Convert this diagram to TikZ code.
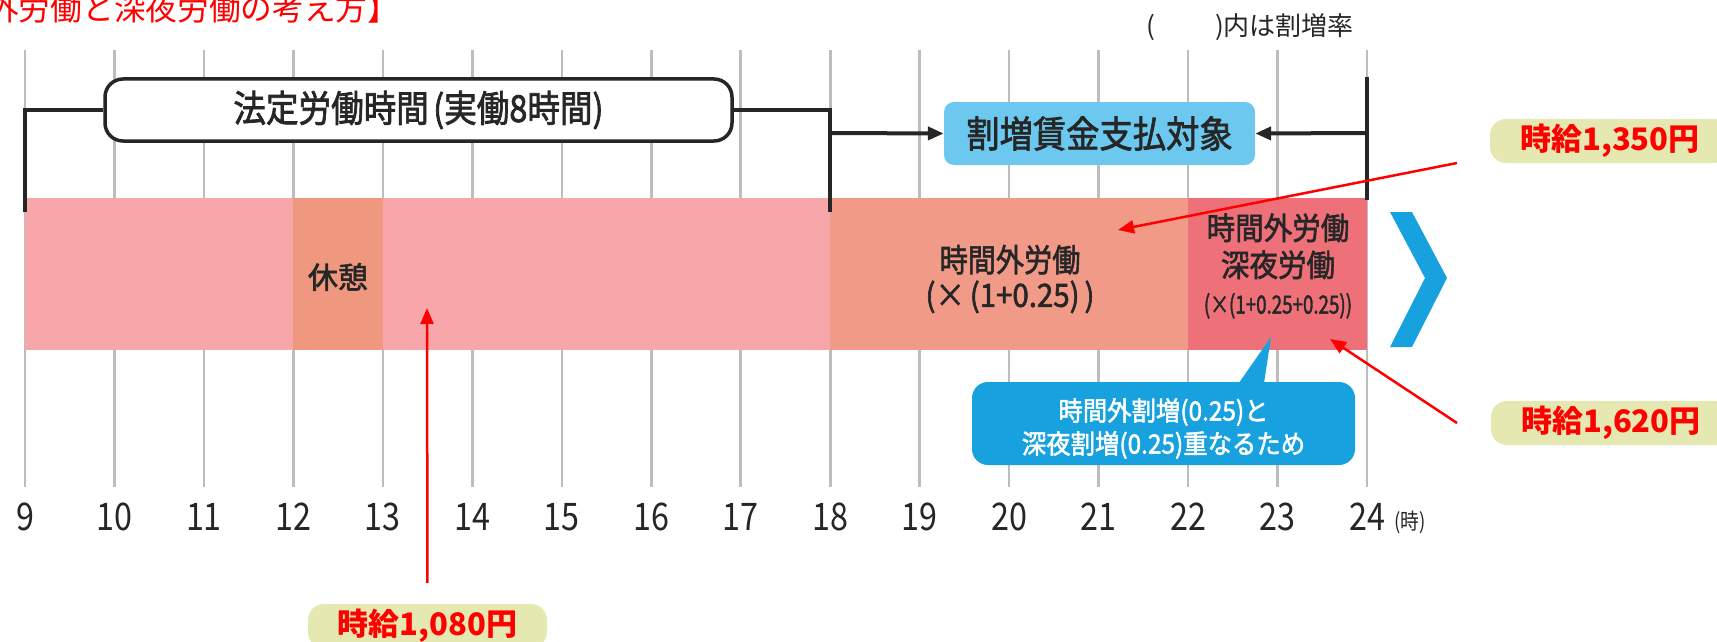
\documentclass[tikz,border=0pt]{standalone}
\usepackage{fontspec}
\usepackage{graphicx}
\usetikzlibrary{arrows.meta}
\setmainfont{Noto Sans CJK JP}
\newfontfamily\jp{Noto Sans CJK JP}
\newfontfamily\jpm[FakeBold=2]{Noto Sans CJK JP}
\newcommand{\myfs}[2]{\fontsize{#1pt}{#2pt}\selectfont}
\newcommand{\cnd}[2]{\scalebox{#1}[1]{#2}}
\definecolor{gridgray}{HTML}{BDBDBD}
\definecolor{txtcol}{HTML}{262626}
\definecolor{bandpink}{HTML}{F7A7A9}
\definecolor{restcol}{HTML}{F0977F}
\definecolor{overcol}{HTML}{F19A88}
\definecolor{latecol}{HTML}{EE7079}
\definecolor{ltblue}{HTML}{6CC8EF}
\definecolor{blueone}{HTML}{17A2DF}
\definecolor{wagebg}{HTML}{E5E8B0}
\definecolor{bkline}{HTML}{262626}
\begin{document}
\begin{tikzpicture}[x=1pt,y=-1pt,
  gridline/.style={draw=gridgray, line width=2.6pt},
  bk/.style={draw=bkline, line width=4pt},
  bkarrow/.style={bk, -{Triangle[length=16pt,width=13pt]}},
  redarrow/.style={draw=red, line width=2.5pt, -{Triangle[length=16pt,width=13pt]}},
  txt/.style={inner sep=0pt, text=txtcol},
  wage/.style={fill=wagebg, rounded corners=16pt, text=red, font=\jp\bfseries\myfs{31}{31}, minimum height=44pt, inner sep=0pt},
  numlab/.style={txt, font=\jp\myfs{38}{38}}
]
\useasboundingbox (0,0) rectangle (1717,642);
\clip (0,0) rectangle (1717,642);
\fill[white] (0,0) rectangle (1717,642);

% grid
\foreach \h in {9,...,24} {
  \draw[gridline] ({25+(\h-9)*89.47},50) -- ({25+(\h-9)*89.47},487);
  \node[numlab] (n\h) at ({25+(\h-9)*89.47},517) {\cnd{0.85}{\h}};
}
\node[txt, font=\jp\myfs{22}{22}] (unit) at (1410,522) {\cnd{0.85}{(時)}};

% title and note
\node[anchor=base west, inner sep=0pt, text=red, font=\jp\myfs{31.7}{31.7}] (title) at (-108,21) {【時間外労働と深夜労働の考え方】};
\node[txt, anchor=east, font=\jp\myfs{26}{26}] (note) at (1354,27) {(\hspace{60pt})内は割増率};

% top boxes
\node[draw=bkline, line width=3.5pt, fill=white, rounded corners=18pt, minimum width=627pt, minimum height=62pt, inner sep=0pt, text=txtcol, font=\jpm\myfs{37}{37}] (law) at (418.5,110) {\cnd{0.88}{法定労働時間\hspace{5pt}(実働8時間)}};
\node[fill=ltblue, rounded corners=10pt, minimum width=311pt, minimum height=63pt, inner sep=0pt, text=txtcol, font=\jpm\myfs{37}{37}] (tai) at (1099.5,133.5) {\cnd{0.9}{割増賃金支払対象}};

% band
\fill[bandpink] (25,198) rectangle (1367,350);
\fill[restcol] (293.4,198) rectangle (382.9,350);
\fill[overcol] (830.2,198) rectangle (1188,350);
\fill[latecol] (1188,198) rectangle (1367,350);
\node[txt, font=\jpm\myfs{30}{30}] (kyu) at (338,277) {休憩};
\node[txt, align=center, font=\jpm\myfs{32}{35}] (over) at (1010,279) {\cnd{0.88}{時間外労働}\\\cnd{0.92}{(×\,(1+0.25)\,)}};
\node[txt, align=center, font=\jpm\myfs{31}{37}] (late) at (1278,266) {\cnd{0.92}{時間外労働}\\\cnd{0.92}{深夜労働}\\{\myfs{25}{34}\cnd{0.75}{(×(1+0.25+0.25))}}};

% chevron
\fill[blueone] (1390,212) -- (1412,212) -- (1447,278) -- (1412,347) -- (1390,347) -- (1425,278) -- cycle;

% callout
\fill[blueone] (1234,390) -- (1271,337) -- (1263,390) -- cycle;
\node[fill=blueone, rounded corners=16pt, minimum width=383pt, minimum height=83pt, inner sep=0pt] (call) at (1163.5,423.5) {};
\node[inner sep=0pt, text=white, align=center, font=\jpm\myfs{26.5}{33}] (calltxt) at (1163.5,428.5) {\cnd{0.92}{時間外割増(0.25)と}\\\cnd{0.92}{深夜割増(0.25)重なるため}};

% bracket lines
\coordinate (b9) at (25,212);
\coordinate (b18) at (830.2,212);
\coordinate (a18) at (830.2,133);
\coordinate (t24) at (1367,77);
\coordinate (b24) at (1367,200);
\coordinate (a24) at (1367,133);
\draw[bk] (law.west) -| (b9);
\draw[bk] (law.east) -| (b18);
\draw[bkarrow] (a18) -- (tai.west);
\draw[bk] (t24) -- (b24);
\draw[bkarrow] (a24) -- (tai.east);

% wage labels
\node[wage, minimum width=240pt] (w1350) at (1610,141) {時給1,350円};
\node[wage, minimum width=240pt] (w1620) at (1611,423) {時給1,620円};
\node[wage, minimum width=239pt] (w1080) at (427.5,626) {時給1,080円};

\coordinate (s1350) at (1457,163);
\coordinate (e1350) at (1118,230);
\coordinate (s1620) at (1457,423);
\coordinate (e1620) at (1330,339);
\coordinate (e1080) at (427,308);
\draw[redarrow] (s1350) -- (e1350);
\draw[redarrow] (s1620) -- (e1620);
\draw[redarrow, shorten <=21pt] (w1080.north) -- (e1080);
\end{tikzpicture}
\end{document}
